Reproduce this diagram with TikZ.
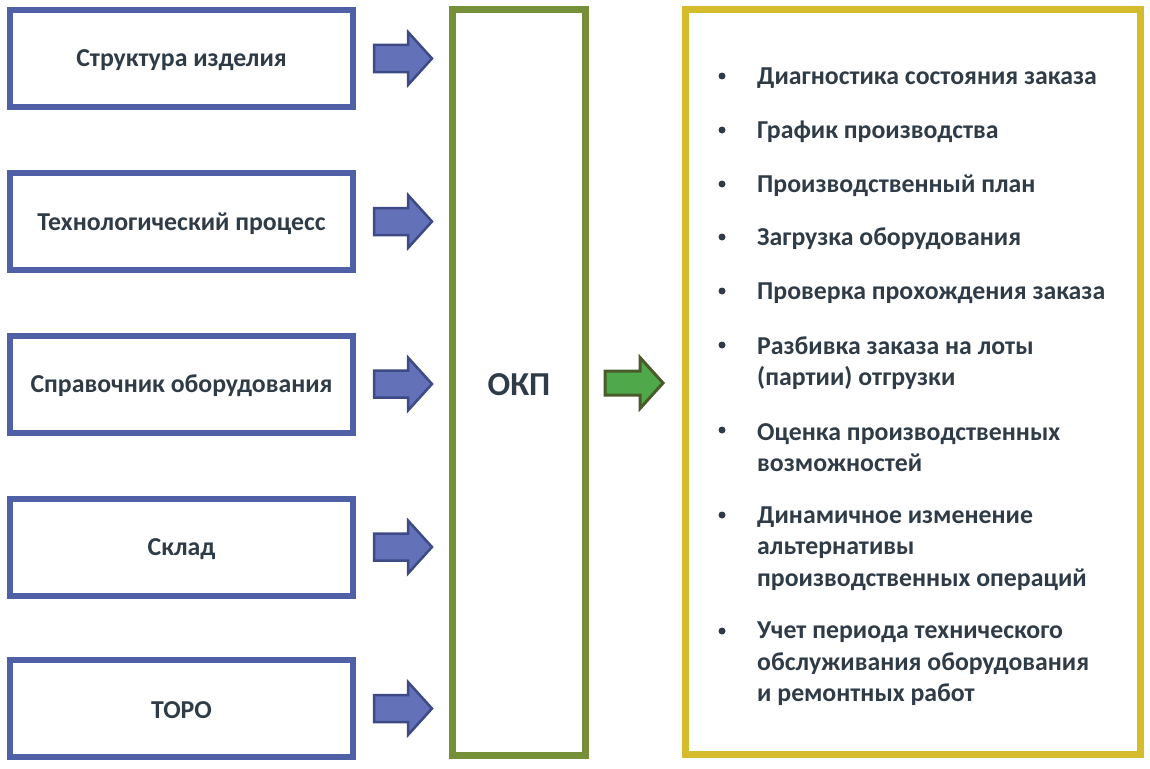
\documentclass[tikz,border=0pt]{standalone}
\usepackage{fontspec}
\setmainfont{Carlito}
\definecolor{bluebrd}{HTML}{4F60A6}
\definecolor{bluefill}{HTML}{6372B8}
\definecolor{bluedark}{HTML}{3E4A85}
\definecolor{greenbrd}{HTML}{76903A}
\definecolor{greenfill}{HTML}{4FA94A}
\definecolor{greendark}{HTML}{4A5A2A}
\definecolor{yellowbrd}{HTML}{D5BC2C}
\definecolor{txt}{HTML}{2F3C48}
\tikzset{
  inbox/.style={draw=bluebrd, line width=6pt, fill=white, minimum width=343pt, minimum height=97pt, inner sep=0pt},
  boxtext/.style={font=\bfseries\fontsize{25.8}{30}\selectfont, text=txt, inner sep=0pt},
  bluearrow/.style={draw=bluedark, fill=bluefill, line width=2.5pt, line join=miter},
  greenarrow/.style={draw=greendark, fill=greenfill, line width=3pt, line join=miter},
  bul/.style={anchor=west, align=left, font=\bfseries\fontsize{25.8}{31.5}\selectfont, text=txt, inner sep=0pt},
  dot/.style={circle, fill=txt, minimum size=7pt, inner sep=0pt}
}
\begin{document}
\begin{tikzpicture}[x=1pt,y=-1pt]
\useasboundingbox (0,0) rectangle (1150,768);
% left boxes
\foreach \y/\n/\t in {58.5/b1/Структура изделия,221.5/b2/Технологический процесс,384/b3/Справочник оборудования,547/b4/Склад,708.5/b5/ТОРО}{
  \node[inbox] (\n) at (181.5,\y) {};
  \node[boxtext] (\n t) at (181.5,\y+2) {\t};
}
% centre box
\node[draw=greenbrd, line width=7pt, minimum width=133pt, minimum height=745pt, inner sep=0pt] (okp) at (519,382.5) {};
\node[font=\bfseries\fontsize{33.5}{36}\selectfont, text=txt, inner sep=0pt] (okpt) at (519,384.5) {ОКП};
% right box
\node[draw=yellowbrd, line width=7pt, minimum width=455pt, minimum height=745pt, inner sep=0pt] (res) at (912.5,382) {};
% blue arrows
\foreach \y/\n in {58.5/a1,221.5/a2,384/a3,547/a4,708.5/a5}{
  \draw[bluearrow] (374,\y-13.5) -- (408,\y-13.5) -- (408,\y-26.5) -- (432,\y) -- (408,\y+26.5) -- (408,\y+13.5) -- (374,\y+13.5) -- cycle;
}
% green arrow
\draw[greenarrow] (605,371) -- (640,371) -- (640,357.5) -- (663,383) -- (640,408.5) -- (640,395) -- (605,395) -- cycle;
% bullets
\foreach \y in {76,130,184,237,291,345,430,515,631}{
  \node[dot] at (722,\y) {};
}
\node[bul] (t1) at (757,78) {Диагностика состояния заказа};
\node[bul] (t2) at (757,132) {График производства};
\node[bul] (t3) at (757,186) {Производственный план};
\node[bul] (t4) at (757,239) {Загрузка оборудования};
\node[bul] (t5) at (757,293) {Проверка прохождения заказа};
\node[bul] (t6) at (757,363) {Разбивка заказа на лоты\\(партии) отгрузки};
\node[bul] (t7) at (757,447.5) {Оценка производственных\\возможностей};
\node[bul] (t8) at (757,548.5) {Динамичное изменение\\альтернативы\\производственных операций};
\node[bul] (t9) at (757,664) {Учет периода технического\\обслуживания оборудования\\и ремонтных работ};
\end{tikzpicture}
\end{document}
